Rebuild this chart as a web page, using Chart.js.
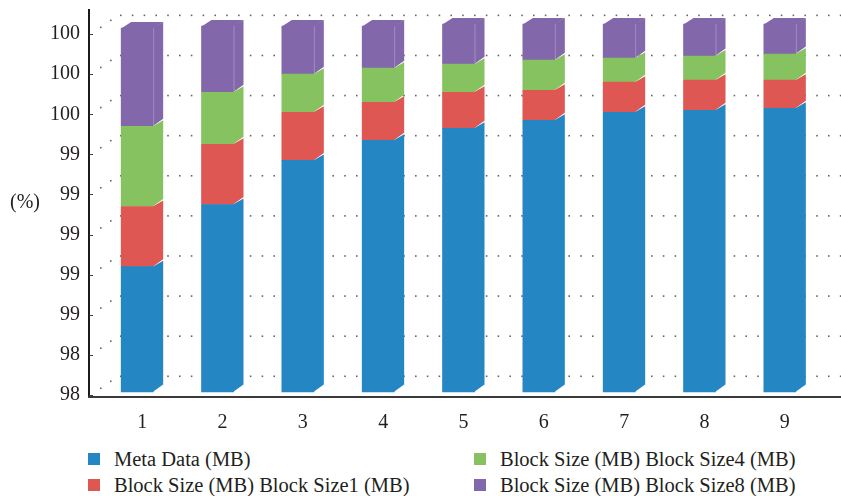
<!DOCTYPE html>
<html>
<head>
<meta charset="utf-8">
<script src="https://cdn.jsdelivr.net/npm/chart.js@4.4.0/dist/chart.umd.min.js"></script>
<style>
    html, body { margin: 0; padding: 0; background: #fff; }
    #wrap { position: relative; width: 841px; height: 496px; }
    #chart-box { position: absolute; left: 0; top: 0; width: 841px; height: 440px; }
    #legend {
        position: absolute; left: 88px; top: 446px;
        display: grid; grid-template-rows: 26px 26px; grid-auto-flow: column;
        grid-template-columns: 386px auto;
        font-family: 'Liberation Serif', 'Tinos', 'Times New Roman', 'DejaVu Serif', serif; font-size: 20.5px; color: #231f20;
    }
    .item { display: flex; align-items: center; white-space: nowrap; }
    .swatch { width: 12px; height: 12px; margin-right: 14px; flex: none; }
</style>
</head>
<body>
<div id="wrap">
    <div id="chart-box"><canvas id="barChart" width="841" height="440"></canvas></div>
    <div id="legend"></div>
</div>
<script>
// Data
const categories = ['1', '2', '3', '4', '5', '6', '7', '8', '9'];
const metaData = [98.84, 99.15, 99.37, 99.47, 99.53, 99.57, 99.61, 99.62, 99.63];
const blockSize1 = [0.30, 0.30, 0.24, 0.19, 0.18, 0.15, 0.15, 0.15, 0.14];
const blockSize4 = [0.40, 0.26, 0.19, 0.17, 0.14, 0.15, 0.12, 0.12, 0.13];
const blockSize8 = [0.49, 0.33, 0.24, 0.21, 0.20, 0.18, 0.17, 0.16, 0.15];
const seriesLabels = ['Meta Data (MB)', 'Block Size (MB) Block Size1 (MB)', 'Block Size (MB) Block Size4 (MB)', 'Block Size (MB) Block Size8 (MB)'];
const seriesColors = ['#2586c4', '#de5753', '#87c261', '#8267ab'];
const yTickValues = [98.2, 98.4, 98.6, 98.8, 99.0, 99.2, 99.4, 99.6, 99.8, 100.0];
const yTickLabels = ['98', '98', '99', '99', '99', '99', '99', '100', '100', '100'];
const yMin = 98.19;
const yMax = 100.125;
const barBase = 98.215;

const FONT = "'Liberation Serif', 'Tinos', 'Times New Roman', 'DejaVu Serif', serif";
const TEXT = '#231f20';
const depthX = 10, depthY = 6;

// fake 3d: back wall dots, bar side/top faces, axis lines
const box3d = {
    id: 'box3d',
    beforeDatasetsDraw(chart) {
        const { ctx, chartArea, scales: { y } } = chart;
        const axisX = chartArea.left - 8;
        ctx.save();
        ctx.fillStyle = '#666';
        y.ticks.forEach(t => {
            const py = y.getPixelForValue(t.value);
            ctx.fillRect(axisX + 11, py - 7.5, 1.6, 1.6);
            ctx.fillRect(axisX + 21, py - 14.5, 1.6, 1.6);
            for (let x = axisX + 31; x < chart.width; x += 11.8) {
                ctx.fillRect(x, py - 19.5, 1.6, 1.6);
            }
        });
        ctx.restore();
    },
    afterDatasetsDraw(chart) {
        const { ctx } = chart;
        const last = chart.data.datasets.length - 1;
        ctx.save();
        chart.data.datasets.forEach((ds, di) => {
            const meta = chart.getDatasetMeta(di);
            meta.data.forEach(bar => {
                const { x, y, base, width } = bar.getProps(['x', 'y', 'base', 'width'], true);
                const l = x - width / 2, r = x + width / 2;
                ctx.fillStyle = ds.backgroundColor;
                ctx.beginPath();
                ctx.moveTo(r - 0.5, y);
                ctx.lineTo(r + depthX, y - depthY);
                ctx.lineTo(r + depthX, base - depthY - 1.5);
                ctx.lineTo(r - 0.5, base);
                ctx.closePath();
                ctx.fill();
                if (di === last) {
                    ctx.beginPath();
                    ctx.moveTo(l, y + 0.5);
                    ctx.lineTo(l + depthX, y - depthY);
                    ctx.lineTo(r + depthX, y - depthY);
                    ctx.lineTo(r, y + 0.5);
                    ctx.closePath();
                    ctx.fill();
                    // faint highlight on the front/side edge of the top box
                    ctx.strokeStyle = 'rgba(255,255,255,0.25)';
                    ctx.lineWidth = 1;
                    ctx.beginPath();
                    ctx.moveTo(r + 0.5, y);
                    ctx.lineTo(r + 0.5, base);
                    ctx.stroke();
                }
            });
        });
        ctx.restore();
    },
    afterDraw(chart) {
        const { ctx, chartArea, scales: { y } } = chart;
        const axisX = chartArea.left - 8;
        ctx.save();
        ctx.strokeStyle = '#1a1a1a';
        ctx.lineWidth = 2;
        ctx.beginPath();
        ctx.moveTo(axisX, chartArea.top);
        ctx.lineTo(axisX, chartArea.bottom);
        ctx.stroke();
        ctx.strokeStyle = '#3a3a3a';
        ctx.beginPath();
        ctx.moveTo(axisX - 1, chartArea.bottom);
        ctx.lineTo(chart.width, chartArea.bottom);
        ctx.stroke();
        ctx.lineWidth = 1;
        y.ticks.forEach(t => {
            const py = Math.round(y.getPixelForValue(t.value)) + 0.5;
            ctx.beginPath();
            ctx.moveTo(axisX, py);
            ctx.lineTo(axisX + 4, py);
            ctx.stroke();
        });
        ctx.fillStyle = TEXT;
        ctx.font = '20px ' + FONT;
        ctx.textBaseline = 'middle';
        ctx.textAlign = 'left';
        ctx.fillText('(%)', 10, (chartArea.top + chartArea.bottom) / 2);
        ctx.restore();
    }
};

const values = [metaData, blockSize1, blockSize4, blockSize8];
const datasets = values.map((data, i) => {
    const ds = {
        label: seriesLabels[i],
        data: data,
        backgroundColor: seriesColors[i],
        borderWidth: 0,
        barThickness: 32
    };
    if (i === 0) ds.base = barBase;
    return ds;
});

new Chart(document.getElementById('barChart').getContext('2d'), {
    type: 'bar',
    data: { labels: categories, datasets: datasets },
    options: {
        responsive: false,
        animation: false,
        layout: { padding: { top: 9, right: 21, left: 0, bottom: 0 } },
        plugins: {
            legend: { display: false },
            tooltip: { enabled: false }
        },
        scales: {
            x: {
                stacked: true,
                grid: { display: false },
                border: { display: false },
                ticks: { labelOffset: 5, padding: 6, color: TEXT, font: { family: FONT, size: 20 } },
                afterFit: scale => {
                    scale.height = 43;
                    scale.paddingLeft = 0;
                    scale.paddingRight = 0;
                }
            },
            y: {
                stacked: true,
                min: yMin,
                max: yMax,
                grid: { display: false, drawTicks: false },
                border: { display: false },
                afterBuildTicks: scale => {
                    scale.ticks = yTickValues.map(v => ({ value: v }));
                },
                ticks: {
                    padding: 17,
                    color: TEXT,
                    font: { family: FONT, size: 20 },
                    callback: (value, index) => yTickLabels[index]
                },
                afterFit: scale => {
                    scale.width = 97;
                    scale.paddingTop = 0;
                    scale.paddingBottom = 0;
                }
            }
        }
    },
    plugins: [box3d]
});

// Legend (two columns, like the original)
const legendEl = document.getElementById('legend');
seriesLabels.forEach((label, i) => {
    const item = `
        <div class="item">
            <span class="swatch" style="background:${seriesColors[i]}"></span>
            <span>${label}</span>
        </div>
    `;
    legendEl.insertAdjacentHTML('beforeend', item);
});
</script>
</body>
</html>
